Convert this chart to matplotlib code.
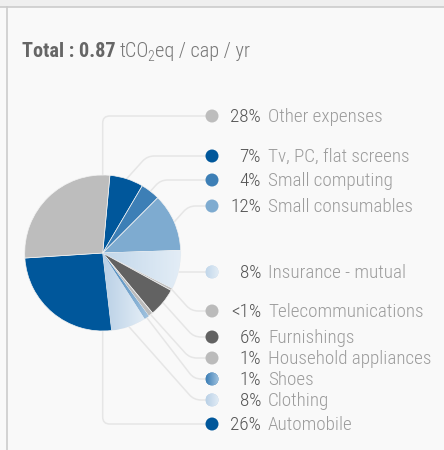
import matplotlib
matplotlib.use("Agg")
import matplotlib.pyplot as plt
import numpy as np
from matplotlib import font_manager
from matplotlib.patches import Circle, Rectangle
from matplotlib.path import Path
from matplotlib.patches import PathPatch
from matplotlib.colors import LinearSegmentedColormap

# ----------------------------------------------------------------------
# data (pie order, clockwise from top)
# ----------------------------------------------------------------------
categories = [
    "Tv, PC, flat screens", "Small computing", "Small consumables",
    "Insurance - mutual", "Telecommunications", "Furnishings",
    "Household appliances", "Shoes", "Clothing", "Automobile",
    "Other expenses",
]
shares = [7.0, 4.0, 12.0, 8.0, 0.5, 6.0, 1.0, 1.0, 7.2, 25.8, 27.5]
pct_labels = ["7%", "4%", "12%", "8%", "<1%", "6%", "1%", "1%", "8%", "26%", "28%"]
colors = ["#00579b", "#3d7fb6", "#7eabd0", ("#c2d7ea", "#e3edf6"), "#bbbbbb",
          "#626262", "#bbbbbb", ("#3d7fb6", "#a3c4e0"), ("#b9d0e6", "#e3edf6"),
          "#00579b", "#bdbdbd"]
# legend is listed top to bottom in this order (indices into the lists above)
legend_order = [10, 0, 1, 2, 3, 4, 5, 6, 7, 8, 9]
legend_y = [116, 156, 180, 206, 272, 311, 337, 358, 379, 400, 424]

total = "0.87"

# ----------------------------------------------------------------------
# layout (pixels, measured from the top-left corner)
# ----------------------------------------------------------------------
W, H = 444, 450
CX, CY, R = 102.7, 253.0, 78.0
DOT_X, DOT_R = 212.0, 6.5
PCT_X, LAB_X = 261.0, 268.0

_installed = {f.name for f in font_manager.fontManager.ttflist}
if "Roboto Condensed" in _installed:
    FONT, FS, FS_T, FS_B = "Roboto Condensed", 13.8, 14.6, 14.6
else:
    FONT, FS, FS_T, FS_B = "Roboto", 12.4, 12.9, 14.2


def Y(y):
    return H - y


fig = plt.figure(figsize=(W / 100, H / 100), dpi=100)
fig.patch.set_facecolor("#f9f9f9")
ax = fig.add_axes([0, 0, 1, 1])
ax.set_facecolor("#f9f9f9")


def base_color(c):
    return c[0] if isinstance(c, tuple) else c


def gradient_fill(patch, c):
    """Horizontal two-colour gradient clipped to a patch."""
    cmap = LinearSegmentedColormap.from_list("g", list(c))
    bb = patch.get_path().transformed(patch.get_patch_transform()).get_extents()
    img = ax.imshow(np.linspace(0, 1, 256)[None, :], cmap=cmap, aspect="auto",
                    extent=(bb.x0, bb.x1, bb.y0, bb.y1), origin="lower",
                    zorder=patch.get_zorder() + 0.1, interpolation="bilinear")
    img.set_clip_path(patch)


# pie
wedges, _ = ax.pie(shares, colors=[base_color(c) for c in colors],
                   startangle=84.7, counterclock=False, center=(CX, Y(CY)),
                   radius=R, frame=True,
                   wedgeprops=dict(linewidth=0.5, edgecolor="#f3f3f3", zorder=3))
for w, c in zip(wedges, colors):
    if isinstance(c, tuple):
        gradient_fill(w, c)

# connectors + legend
for idx, ly in zip(legend_order, legend_y):
    w = wedges[idx]
    mid = np.deg2rad((w.theta1 + w.theta2) / 2)
    sx, sy = CX + R * np.cos(mid), CY - R * np.sin(mid)
    rc = 7.0
    if sx < CX:
        # left-hand slices: line runs from the centre, up or down, then across
        sgn = 1 if ly > CY else -1
        verts = [(CX, CY), (CX, ly - sgn * rc), (CX, ly), (CX + rc, ly), (DOT_X, ly)]
        codes = [Path.MOVETO, Path.LINETO, Path.CURVE3, Path.CURVE3, Path.LINETO]
    else:
        dy = ly - sy
        if abs(dy) < 4:
            verts = [(sx, ly), (DOT_X, ly)]
            codes = [Path.MOVETO, Path.LINETO]
        else:
            bx = min(sx + 0.9 * abs(dy), DOT_X - 18)
            L = np.hypot(bx - sx, dy)
            k = min(rc, L * 0.5) / L
            p1 = (bx - (bx - sx) * k, ly - dy * k)
            verts = [(sx, sy), p1, (bx, ly), (bx + rc, ly), (DOT_X, ly)]
            codes = [Path.MOVETO, Path.LINETO, Path.CURVE3, Path.CURVE3, Path.LINETO]
    verts = [(x, Y(y)) for x, y in verts]
    ax.add_patch(PathPatch(Path(verts, codes), fill=False, edgecolor="#e6e6e6",
                           linewidth=1.1, zorder=1, capstyle="round"))

    c = colors[idx]
    dot = Circle((DOT_X, Y(ly)), DOT_R, facecolor=base_color(c), edgecolor="none", zorder=4)
    ax.add_patch(dot)
    if isinstance(c, tuple):
        gradient_fill(dot, c)
    ax.text(PCT_X, Y(ly + 6.0), pct_labels[idx], ha="right", va="baseline",
            fontsize=FS, color="#555555", family=FONT, fontweight="light")
    ax.text(LAB_X, Y(ly + 6.0), categories[idx], ha="left", va="baseline",
            fontsize=FS, color="#9c9c9c", family=FONT, fontweight="light")

# frame: top band and left rule
ax.add_patch(Rectangle((0, Y(7)), W, 7, facecolor="#efefef", edgecolor="none", zorder=0))
ax.plot([0, W], [Y(7), Y(7)], color="#cccccc", linewidth=1.2, zorder=1)
ax.plot([6.5, 6.5], [Y(7), 0], color="#cccccc", linewidth=1.2, zorder=1)

ax.set_xlim(0, W)
ax.set_ylim(0, H)
ax.set_aspect("auto")
ax.axis("off")

# title, built piece by piece
fig.canvas.draw()
r = fig.canvas.get_renderer()
base = Y(57)
t = ax.text(22, base, f"Total : {total}", fontsize=FS_B, fontweight="bold",
            color="#666666", family=FONT, va="baseline")
x = t.get_window_extent(r).x1 + 4
for s, size, dyy, gap in [("tCO", FS_T, 0, -1.5), ("2", FS_T * 0.68, -4, 0.3),
                          ("eq / cap / yr", FS_T, 0, 0)]:
    t = ax.text(x, base + dyy, s, fontsize=size, color="#777777", family=FONT,
                fontweight="light", va="baseline")
    x = t.get_window_extent(r).x1 + gap

fig.savefig("out.png", dpi=100, facecolor=fig.get_facecolor())
